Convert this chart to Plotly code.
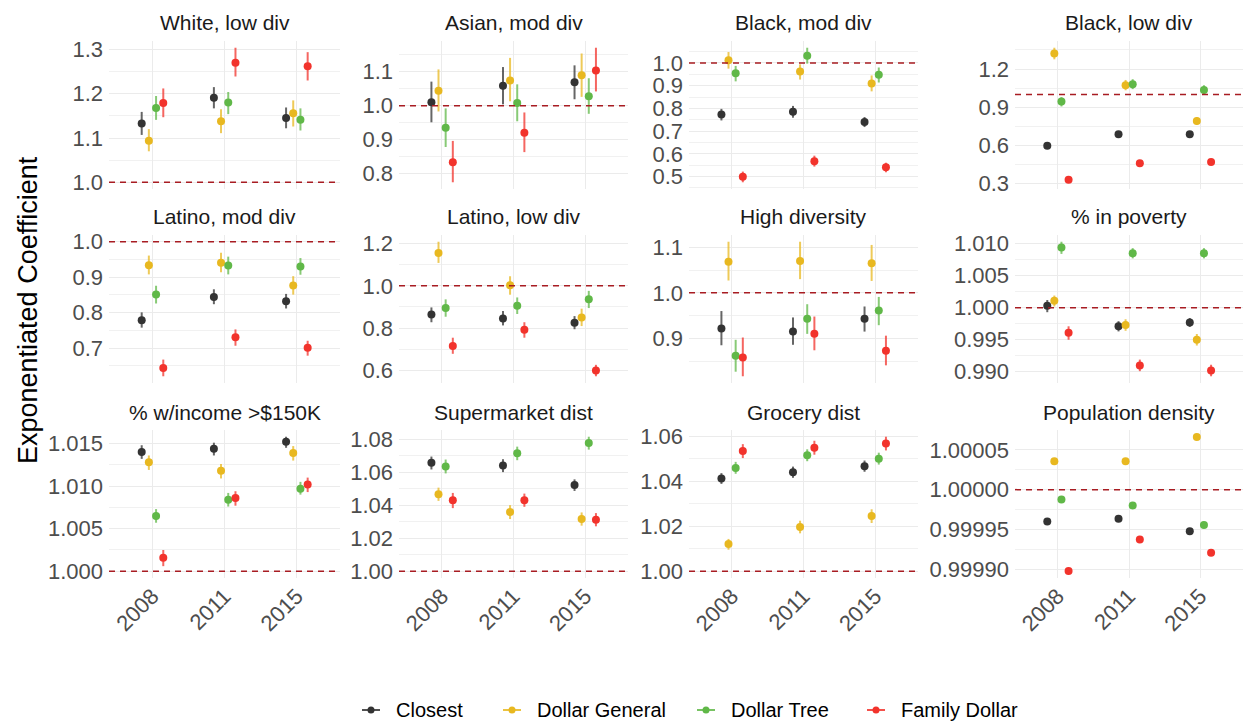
import plotly.graph_objects as go
from plotly.subplots import make_subplots

years = ["2008", "2011", "2015"]
series = ["Closest", "Dollar General", "Dollar Tree", "Family Dollar"]
colors = ["#333333", "#E8B820", "#60B848", "#F2332C"]

# each panel: rows = series (Closest, Dollar General, Dollar Tree, Family Dollar), cols = years
white_low_est = [[1.133, 1.191, 1.145], [1.094, 1.138, 1.156], [1.168, 1.180, 1.141], [1.179, 1.270, 1.262]]
white_low_lo = [[1.107, 1.167, 1.122], [1.070, 1.111, 1.126], [1.141, 1.154, 1.117], [1.147, 1.239, 1.230]]
white_low_hi = [[1.159, 1.215, 1.169], [1.120, 1.165, 1.185], [1.195, 1.204, 1.167], [1.212, 1.304, 1.294]]
white_low_ticks = [1.0, 1.1, 1.2, 1.3]

asian_mod_est = [[1.010, 1.059, 1.069], [1.044, 1.074, 1.090], [0.935, 1.008, 1.028], [0.833, 0.920, 1.104]]
asian_mod_lo = [[0.951, 1.004, 1.019], [0.983, 1.013, 1.026], [0.878, 0.954, 0.976], [0.774, 0.863, 1.042]]
asian_mod_hi = [[1.071, 1.114, 1.119], [1.107, 1.141, 1.154], [0.992, 1.063, 1.081], [0.896, 0.980, 1.171]]
asian_mod_ticks = [0.8, 0.9, 1.0, 1.1]

black_mod_est = [[0.773, 0.785, 0.740], [1.012, 0.962, 0.910], [0.955, 1.032, 0.948], [0.499, 0.568, 0.541]]
black_mod_lo = [[0.747, 0.759, 0.718], [0.975, 0.927, 0.875], [0.919, 0.997, 0.914], [0.475, 0.544, 0.519]]
black_mod_hi = [[0.798, 0.811, 0.762], [1.048, 0.994, 0.945], [0.987, 1.067, 0.980], [0.522, 0.592, 0.561]]
black_mod_ticks = [0.5, 0.6, 0.7, 0.8, 0.9, 1.0]

black_low_est = [[0.597, 0.687, 0.687], [1.322, 1.073, 0.792], [0.945, 1.081, 1.036], [0.331, 0.461, 0.471]]
black_low_lo = [[0.585, 0.677, 0.677], [1.276, 1.033, 0.763], [0.906, 1.042, 0.997], [0.311, 0.440, 0.450]]
black_low_hi = [[0.609, 0.697, 0.697], [1.367, 1.114, 0.823], [0.979, 1.120, 1.073], [0.352, 0.482, 0.492]]
black_low_ticks = [0.3, 0.6, 0.9, 1.2]

latino_mod_est = [[0.779, 0.844, 0.832], [0.934, 0.941, 0.877], [0.851, 0.933, 0.930], [0.644, 0.731, 0.701]]
latino_mod_lo = [[0.758, 0.824, 0.812], [0.908, 0.914, 0.851], [0.826, 0.908, 0.907], [0.621, 0.707, 0.679]]
latino_mod_hi = [[0.801, 0.866, 0.853], [0.961, 0.969, 0.903], [0.876, 0.958, 0.954], [0.668, 0.753, 0.721]]
latino_mod_ticks = [0.7, 0.8, 0.9, 1.0]

latino_low_est = [[0.864, 0.846, 0.826], [1.155, 1.003, 0.850], [0.895, 0.906, 0.936], [0.716, 0.792, 0.600]]
latino_low_lo = [[0.828, 0.813, 0.795], [1.108, 0.958, 0.810], [0.854, 0.867, 0.895], [0.679, 0.755, 0.573]]
latino_low_hi = [[0.898, 0.881, 0.857], [1.208, 1.045, 0.892], [0.936, 0.945, 0.976], [0.755, 0.828, 0.627]]
latino_low_ticks = [0.6, 0.8, 1.0, 1.2]

high_div_est = [[0.922, 0.915, 0.943], [1.068, 1.070, 1.065], [0.862, 0.943, 0.961], [0.858, 0.910, 0.873]]
high_div_lo = [[0.885, 0.886, 0.915], [1.027, 1.030, 1.026], [0.827, 0.910, 0.929], [0.817, 0.874, 0.841]]
high_div_hi = [[0.960, 0.946, 0.970], [1.112, 1.112, 1.105], [0.897, 0.975, 0.991], [0.902, 0.948, 0.906]]
high_div_ticks = [0.9, 1.0, 1.1]

poverty_est = [[1.0003, 0.9971, 0.9977], [1.0011, 0.9973, 0.9950], [1.0094, 1.0085, 1.0085], [0.9961, 0.9910, 0.9902]]
poverty_lo = [[0.9993, 0.9963, 0.9970], [1.0002, 0.9964, 0.9941], [1.0084, 1.0077, 1.0077], [0.9950, 0.9901, 0.9893]]
poverty_hi = [[1.0012, 0.9979, 0.9984], [1.0019, 0.9982, 0.9959], [1.0103, 1.0093, 1.0093], [0.9971, 0.9919, 0.9911]]
poverty_ticks = [0.990, 0.995, 1.000, 1.005, 1.010]

income_est = [[1.0140, 1.0144, 1.0152], [1.0128, 1.0118, 1.0139], [1.0065, 1.0084, 1.0097], [1.0016, 1.0086, 1.0102]]
income_lo = [[1.0132, 1.0136, 1.0145], [1.0119, 1.0109, 1.0130], [1.0057, 1.0076, 1.0090], [1.0006, 1.0077, 1.0093]]
income_hi = [[1.0148, 1.0151, 1.0158], [1.0136, 1.0126, 1.0147], [1.0073, 1.0092, 1.0105], [1.0025, 1.0094, 1.0110]]
income_ticks = [1.000, 1.005, 1.010, 1.015]

supermarket_est = [[1.0656, 1.0640, 1.0522], [1.0466, 1.0358, 1.0316], [1.0634, 1.0714, 1.0776], [1.0430, 1.0430, 1.0312]]
supermarket_lo = [[1.0616, 1.0600, 1.0486], [1.0426, 1.0316, 1.0276], [1.0592, 1.0672, 1.0736], [1.0382, 1.0390, 1.0272]]
supermarket_hi = [[1.0694, 1.0678, 1.0556], [1.0506, 1.0400, 1.0356], [1.0676, 1.0754, 1.0814], [1.0474, 1.0470, 1.0352]]
supermarket_ticks = [1.00, 1.02, 1.04, 1.06, 1.08]

grocery_est = [[1.0413, 1.0441, 1.0468], [1.0121, 1.0197, 1.0246], [1.0460, 1.0516, 1.0501], [1.0535, 1.0550, 1.0569]]
grocery_lo = [[1.0389, 1.0416, 1.0443], [1.0096, 1.0169, 1.0215], [1.0434, 1.0490, 1.0475], [1.0504, 1.0519, 1.0538]]
grocery_hi = [[1.0437, 1.0466, 1.0493], [1.0144, 1.0225, 1.0276], [1.0487, 1.0543, 1.0528], [1.0566, 1.0581, 1.0599]]
grocery_ticks = [1.00, 1.02, 1.04, 1.06]

popdens_est = [[0.9999600, 0.9999635, 0.9999477], [1.0000356, 1.0000356, 1.0000660],
               [0.9999877, 0.9999802, 0.9999556], [0.9998980, 0.9999376, 0.9999208]]
popdens_lo = [[0.9999596, 0.9999631, 0.9999473], [1.0000352, 1.0000352, 1.0000656],
              [0.9999873, 0.9999798, 0.9999552], [0.9998976, 0.9999372, 0.9999204]]
popdens_hi = [[0.9999604, 0.9999639, 0.9999481], [1.0000360, 1.0000360, 1.0000664],
              [0.9999881, 0.9999806, 0.9999560], [0.9998984, 0.9999380, 0.9999212]]
popdens_ticks = [0.99990, 0.99995, 1.00000, 1.00005]

panels = [
    ("White, low div", white_low_est, white_low_lo, white_low_hi, white_low_ticks, 1),
    ("Asian, mod div", asian_mod_est, asian_mod_lo, asian_mod_hi, asian_mod_ticks, 1),
    ("Black, mod div", black_mod_est, black_mod_lo, black_mod_hi, black_mod_ticks, 1),
    ("Black, low div", black_low_est, black_low_lo, black_low_hi, black_low_ticks, 1),
    ("Latino, mod div", latino_mod_est, latino_mod_lo, latino_mod_hi, latino_mod_ticks, 1),
    ("Latino, low div", latino_low_est, latino_low_lo, latino_low_hi, latino_low_ticks, 1),
    ("High diversity", high_div_est, high_div_lo, high_div_hi, high_div_ticks, 1),
    ("% in poverty", poverty_est, poverty_lo, poverty_hi, poverty_ticks, 3),
    ("% w/income >$150K", income_est, income_lo, income_hi, income_ticks, 3),
    ("Supermarket dist", supermarket_est, supermarket_lo, supermarket_hi, supermarket_ticks, 2),
    ("Grocery dist", grocery_est, grocery_lo, grocery_hi, grocery_ticks, 2),
    ("Population density", popdens_est, popdens_lo, popdens_hi, popdens_ticks, 5),
]

W, H = 1243, 721
col_px = [(109, 340), (399, 628), (689, 918), (1015, 1243)]
row_px = [(41, 189), (235, 383), (430, 578)]
dodge = [-0.147, -0.048, 0.052, 0.152]
FONT = "Liberation Sans, Arial, sans-serif"
TICK_COLOR = "#4D4D4D"
GRID = "#EBEBEB"


def rgba(hexc, a):
    h = hexc.lstrip("#")
    return "rgba(%d,%d,%d,%.2f)" % (int(h[0:2], 16), int(h[2:4], 16), int(h[4:6], 16), a)


fig = make_subplots(rows=3, cols=4)

for k, (title, est, lo, hi, ticks, dec) in enumerate(panels):
    r, c = divmod(k, 4)
    for i, name in enumerate(series):
        xs = [j + 1 + dodge[i] for j in range(len(years))]
        fig.add_trace(go.Scatter(
            x=xs, y=est[i], mode="markers", name=name, showlegend=False,
            marker=dict(color=colors[i], size=8, line=dict(width=0)),
            error_y=dict(type="data", symmetric=False,
                         array=[h - e for h, e in zip(hi[i], est[i])],
                         arrayminus=[e - l for e, l in zip(est[i], lo[i])],
                         color=rgba(colors[i], 0.75), thickness=2, width=0),
        ), row=r + 1, col=c + 1)

    allv = [v for s in lo for v in s] + [v for s in hi for v in s] + [1.0]
    ymin, ymax = min(allv), max(allv)
    pad = 0.05 * (ymax - ymin)
    step = ticks[1] - ticks[0]
    minor_vals = [ticks[0] - step / 2] + [t + step / 2 for t in ticks]

    ax = k + 1
    xname = "xaxis" if ax == 1 else "xaxis%d" % ax
    yname = "yaxis" if ax == 1 else "yaxis%d" % ax
    fig.layout[xname].update(
        domain=[col_px[c][0] / W, col_px[c][1] / W], automargin=False,
        range=[0.4, 3.6], tickmode="array", tickvals=[1, 2, 3], ticktext=years,
        showgrid=True, gridcolor=GRID, gridwidth=1.1, zeroline=False, showline=False,
        ticks="", showticklabels=(r == 2), tickangle=-45,
        tickfont=dict(family=FONT, size=22, color=TICK_COLOR),
    )
    fig.layout[yname].update(
        domain=[1 - row_px[r][1] / H, 1 - row_px[r][0] / H], automargin=False,
        range=[ymin - pad, ymax + pad], tickmode="array", tickvals=ticks,
        ticktext=[("%." + str(dec) + "f") % t for t in ticks],
        showgrid=True, gridcolor=GRID, gridwidth=1.1, zeroline=False, showline=False,
        ticks="", ticklabelstandoff=5,
        minor=dict(tickmode="array", tickvals=minor_vals, showgrid=True,
                   gridcolor="#F1F1F1", gridwidth=0.6, ticks=""),
        tickfont=dict(family=FONT, size=22, color=TICK_COLOR),
    )
    fig.add_hline(y=1.0, line=dict(color="#A81C22", dash="6px,5px", width=1.5),
                  row=r + 1, col=c + 1)
    fig.add_annotation(
        x=(col_px[c][0] + col_px[c][1]) / 2 / W, y=1 - (row_px[r][0] - 18) / H,
        xref="paper", yref="paper", text=title, showarrow=False,
        font=dict(family=FONT, size=21, color="#1A1A1A"), xanchor="center", yanchor="middle",
    )

# y axis title
fig.add_annotation(x=28 / W, y=1 - 310 / H, xref="paper", yref="paper",
                   text="Exponentiated Coefficient", textangle=-90, showarrow=False,
                   font=dict(family=FONT, size=27, color="#000000"),
                   xanchor="center", yanchor="middle")

# legend (custom keys)
leg_x = [371, 512, 706, 876]
leg_y = 710
for i, name in enumerate(series):
    x0 = leg_x[i]
    fig.add_shape(type="line", xref="paper", yref="paper",
                  x0=(x0 - 9) / W, x1=(x0 + 9) / W, y0=1 - leg_y / H, y1=1 - leg_y / H,
                  line=dict(color=rgba(colors[i], 0.85), width=2))
    fig.add_shape(type="circle", xref="paper", yref="paper",
                  x0=(x0 - 3.5) / W, x1=(x0 + 3.5) / W,
                  y0=1 - (leg_y + 3.5) / H, y1=1 - (leg_y - 3.5) / H,
                  fillcolor=colors[i], line=dict(width=0))
    fig.add_annotation(x=(x0 + 23) / W, y=1 - leg_y / H, xref="paper", yref="paper",
                       text=name, showarrow=False, xanchor="left", yanchor="middle",
                       font=dict(family=FONT, size=20, color="#000000"))

fig.update_layout(
    width=W, height=H, margin=dict(l=0, r=0, t=0, b=0, autoexpand=False),
    paper_bgcolor="white", plot_bgcolor="white", showlegend=False,
    font=dict(family=FONT),
)

fig.write_html("out.html", config={"displayModeBar": False},
               post_script="document.body.style.margin='0px';document.body.style.overflow='hidden';")
